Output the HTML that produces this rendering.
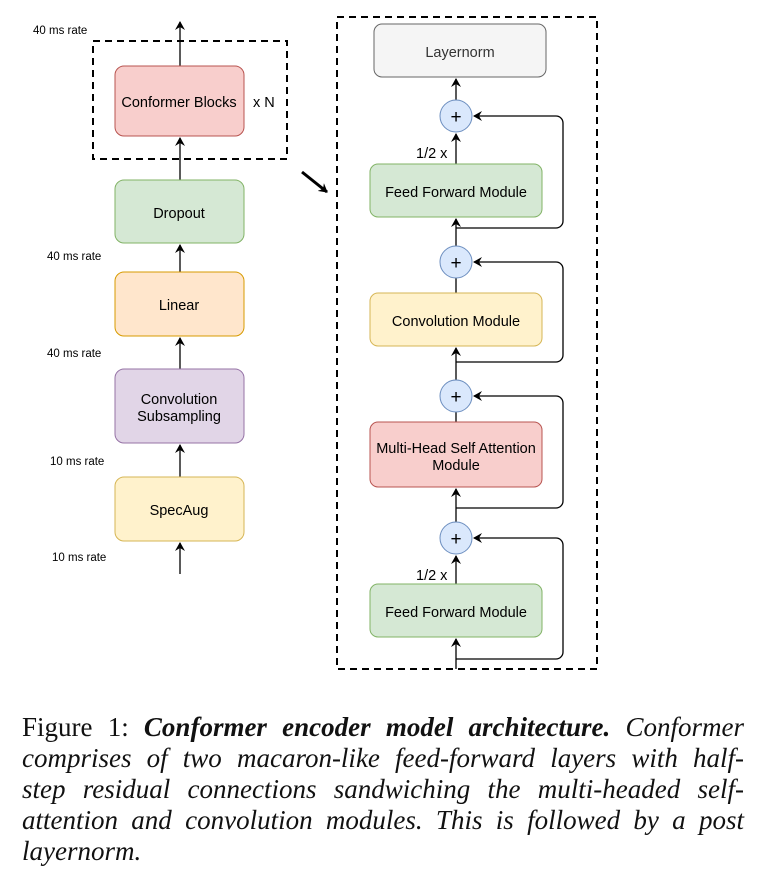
<!DOCTYPE html><html><head><style>
body{margin:0;background:#fff;width:763px;height:884px;position:relative;overflow:hidden}
.cap{position:absolute;left:22px;top:712px;width:722px;font-family:"Liberation Serif",serif;font-size:27px;line-height:31px;color:#111}
.cap div{text-align:justify;text-align-last:justify;white-space:nowrap}
.cap div.l{text-align-last:left}
</style></head><body>
<svg width="763" height="700" style="position:absolute;left:0;top:0" font-family="Liberation Sans, sans-serif">
<defs><marker id="a" markerWidth="10" markerHeight="10" refX="8" refY="5" orient="auto" markerUnits="userSpaceOnUse"><path d="M0,0 L9,5 L0,10 L3,5Z" fill="#000"/></marker></defs>
<g stroke="#000" stroke-width="2" fill="none" stroke-dasharray="7,5">
<rect x="93" y="41" width="194" height="118"/>
<rect x="337" y="17" width="260" height="652"/>
</g>
<g stroke="#000" stroke-width="1.3" fill="none" marker-end="url(#a)">
<line x1="180" y1="574" x2="180" y2="543"/>
<line x1="180" y1="477" x2="180" y2="445"/>
<line x1="180" y1="369" x2="180" y2="338"/>
<line x1="180" y1="272" x2="180" y2="245"/>
<line x1="180" y1="180" x2="180" y2="138"/>
<line x1="180" y1="66" x2="180" y2="22"/>
<line x1="456" y1="669" x2="456" y2="639"/>
<line x1="456" y1="584" x2="456" y2="556"/>
<line x1="456" y1="522" x2="456" y2="489"/>
<line x1="456" y1="380" x2="456" y2="348"/>
<line x1="456" y1="246" x2="456" y2="219"/>
<line x1="456" y1="164" x2="456" y2="134"/>
<line x1="456" y1="100" x2="456" y2="79"/>
<path d="M456,659 H556 a7,7 0 0 0 7,-7 V545 a7,7 0 0 0 -7,-7 H474"/>
<path d="M456,508 H556 a7,7 0 0 0 7,-7 V403 a7,7 0 0 0 -7,-7 H474"/>
<path d="M456,362 H556 a7,7 0 0 0 7,-7 V269 a7,7 0 0 0 -7,-7 H474"/>
<path d="M456,228 H556 a7,7 0 0 0 7,-7 V123 a7,7 0 0 0 -7,-7 H474"/>
</g>
<line x1="456" y1="412" x2="456" y2="422" stroke="#000" stroke-width="1.3"/>
<line x1="456" y1="293" x2="456" y2="278" stroke="#000" stroke-width="1.3"/>
<line x1="302" y1="172" x2="327" y2="192" stroke="#000" stroke-width="3" marker-end="url(#a)"/>
<g stroke-width="1">
<rect x="115" y="66" width="129" height="70" rx="9" fill="#f8cecc" stroke="#b85450"/>
<rect x="115" y="180" width="129" height="63" rx="9" fill="#d5e8d4" stroke="#82b366"/>
<rect x="115" y="272" width="129" height="64" rx="9" fill="#ffe6cc" stroke="#d79b00"/>
<rect x="115" y="369" width="129" height="74" rx="9" fill="#e1d5e7" stroke="#9673a6"/>
<rect x="115" y="477" width="129" height="64" rx="9" fill="#fff2cc" stroke="#d6b656"/>
<rect x="374" y="24" width="172" height="53" rx="8" fill="#f5f5f5" stroke="#666"/>
<rect x="370" y="164" width="172" height="53" rx="8" fill="#d5e8d4" stroke="#82b366"/>
<rect x="370" y="293" width="172" height="53" rx="8" fill="#fff2cc" stroke="#d6b656"/>
<rect x="370" y="422" width="172" height="65" rx="8" fill="#f8cecc" stroke="#b85450"/>
<rect x="370" y="584" width="172" height="53" rx="8" fill="#d5e8d4" stroke="#82b366"/>
<g fill="#dae8fc" stroke="#6c8ebf"><circle cx="456" cy="116" r="16"/><circle cx="456" cy="262" r="16"/><circle cx="456" cy="396" r="16"/><circle cx="456" cy="538" r="16"/></g>
</g>
<g font-size="19" text-anchor="middle" fill="#000"><text x="456" y="123">+</text><text x="456" y="269">+</text><text x="456" y="403">+</text><text x="456" y="545">+</text></g>
<g font-size="14.5" text-anchor="middle" fill="#000">
<text x="179" y="107">Conformer Blocks</text>
<text x="179" y="218">Dropout</text>
<text x="179" y="310">Linear</text>
<text x="179" y="404">Convolution</text><text x="179" y="421">Subsampling</text>
<text x="179" y="515">SpecAug</text>
<text x="460" y="57" fill="#333">Layernorm</text>
<text x="456" y="197">Feed Forward Module</text>
<text x="456" y="326">Convolution Module</text>
<text x="456" y="453">Multi-Head Self Attention</text><text x="456" y="470">Module</text>
<text x="456" y="617">Feed Forward Module</text>
</g>
<g font-size="14.5"><text x="253" y="107">x N</text><text x="416" y="158">1/2 x</text><text x="416" y="580">1/2 x</text></g>
<g font-size="11.5"><text x="33" y="34">40 ms rate</text><text x="47" y="260">40 ms rate</text><text x="47" y="357">40 ms rate</text><text x="50" y="465">10 ms rate</text><text x="52" y="561">10 ms rate</text></g>
</svg>
<div class="cap">
<div>Figure 1: <b><i>Conformer encoder model architecture.</i></b> <i>Conformer</i></div>
<div><i>comprises of two macaron-like feed-forward layers with half-</i></div>
<div><i>step residual connections sandwiching the multi-headed self-</i></div>
<div><i>attention and convolution modules. This is followed by a post</i></div>
<div class="l"><i>layernorm.</i></div>
</div>
</body></html>
